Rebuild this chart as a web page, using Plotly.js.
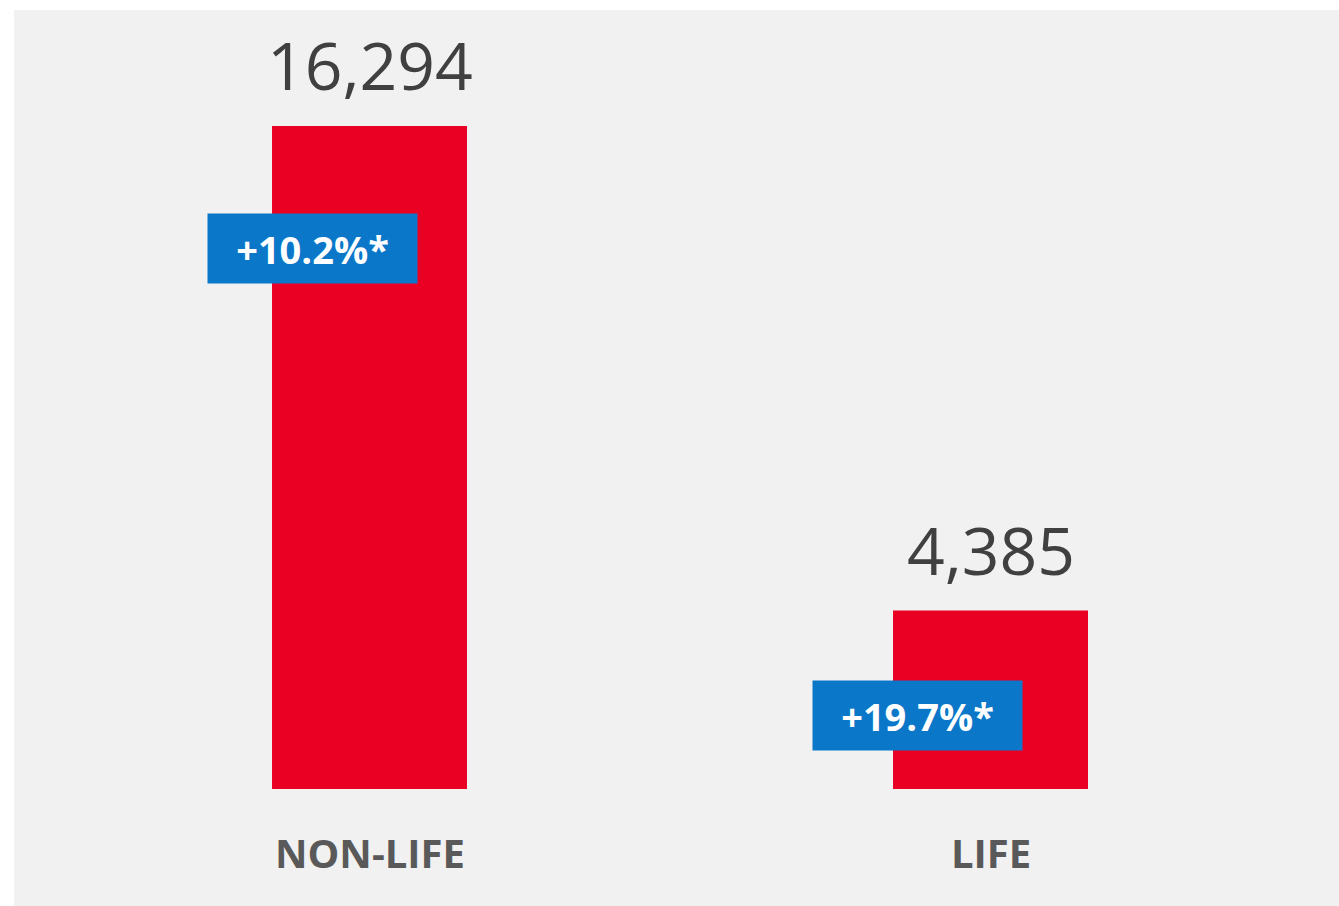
<!DOCTYPE html>
<html>
<head>
<meta charset="utf-8">
<script src="https://cdn.plot.ly/plotly-3.0.1.min.js"></script>
<style>
html,body{margin:0;padding:0;background:#ffffff;}
#chart{width:1339px;height:906px;}
</style>
</head>
<body>
<div id="chart"></div>
<script>
var categories = ["NON-LIFE", "LIFE"];
var values = [16294, 4385];
var valueLabels = ["16,294", "4,385"];
var growthLabels = ["+10.2%*", "+19.7%*"];

var growthXShift = [-57, -73];
var growthYShift = [-122.5, -104.5];

var annotations = [];
categories.forEach(function (c, i) {
  annotations.push({
    x: c, y: values[i], xref: 'x', yref: 'y',
    text: valueLabels[i], showarrow: false,
    yanchor: 'middle', yshift: 62,
    font: {family: 'Open Sans', size: 66, color: '#404040'}
  });
  annotations.push({
    x: c, y: 0, xref: 'x', yref: 'y',
    text: '<b>' + c + '</b>', showarrow: false,
    yanchor: 'middle', yshift: -63,
    font: {family: 'Open Sans', size: 40, color: '#595959'}
  });
  annotations.push({
    x: c, y: values[i], xref: 'x', yref: 'y',
    text: '<b>' + growthLabels[i] + '</b>', showarrow: false,
    xanchor: 'center', yanchor: 'middle',
    xshift: growthXShift[i], yshift: growthYShift[i],
    width: 209, height: 69, borderpad: 0, align: 'center', valign: 'middle',
    bgcolor: '#0a77c9',
    font: {family: 'Open Sans', size: 38, color: '#ffffff'}
  });
});

var trace = {
  type: 'bar',
  x: categories,
  y: values,
  width: 0.314,
  marker: {color: '#ea0023', line: {width: 0}},
  hoverinfo: 'none'
};

var layout = {
  width: 1339, height: 906,
  margin: {l: 14, r: 0, t: 10, b: 0, pad: 0},
  paper_bgcolor: '#ffffff',
  plot_bgcolor: '#f1f1f1',
  showlegend: false,
  xaxis: {type: 'category', range: [-0.5725, 1.5612], showticklabels: false,
          showgrid: false, zeroline: false, showline: false, ticks: ''},
  yaxis: {range: [-2875, 19145], showticklabels: false, showgrid: false,
          zeroline: false, showline: false, ticks: ''},
  annotations: annotations
};

Plotly.newPlot('chart', [trace], layout, {displayModeBar: false, staticPlot: true});
</script>
</body>
</html>
